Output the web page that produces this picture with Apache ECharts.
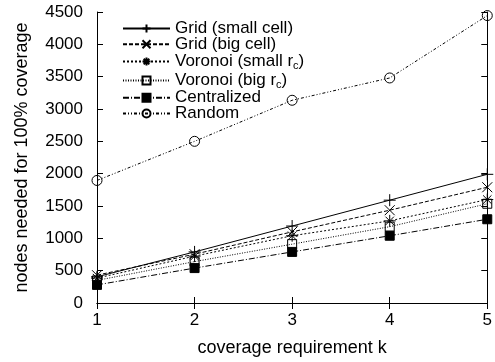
<!DOCTYPE html>
<html><head><meta charset="utf-8">
<script src="https://cdn.jsdelivr.net/npm/echarts@6/dist/echarts.min.js"></script>
<style>html,body{margin:0;padding:0;background:#fff}#c{width:495px;height:362px}</style>
</head><body><div id="c"></div>
<script>
const kValues = [1, 2, 3, 4, 5];
const gridSmall = [405, 790, 1190, 1590, 1990];
const gridBig = [430, 755, 1100, 1435, 1790];
const voronoiSmall = [385, 725, 1040, 1270, 1600];
const voronoiBig = [350, 640, 910, 1180, 1535];
const centralized = [280, 540, 790, 1040, 1295];
const random = [1895, 2500, 3135, 3480, 4445];
const seriesNames = ['Grid (small cell)', 'Grid (big cell)', 'Voronoi (small r_c)', 'Voronoi (big r_c)', 'Centralized', 'Random'];
const yTicks = [0, 500, 1000, 1500, 2000, 2500, 3000, 3500, 4000, 4500];

const FONT = 'Liberation Sans, Arial, sans-serif';
const FS = 17;
const TS = 18;
const pair = arr => kValues.map((k, i) => [k, arr[i]]);
const openCircle = 'path://M10,5A5,5,0,1,1,0,5A5,5,0,1,1,10,5Z';
const openSquare = 'path://M0,0L10,0L10,10L0,10Z';
const styles = [
  {data: gridSmall, symbol: 'path://M0,5L10,5M5,0L5,10', dash: 'solid', size: 12, fill: '#000'},
  {data: gridBig, symbol: 'path://M0,0L10,10M10,0L0,10', dash: [4, 2], size: 10, fill: '#000'},
  {data: voronoiSmall, symbol: 'path://M0,5L10,5M5,0L5,10M1.5,1.5L8.5,8.5M8.5,1.5L1.5,8.5', dash: [2, 2], size: 12, fill: '#000'},
  {data: voronoiBig, symbol: openSquare, dash: [1, 1.5], size: 9, fill: 'rgba(0,0,0,0)'},
  {data: centralized, symbol: 'rect', dash: [6, 2, 1, 2], size: 9, fill: '#000'},
  {data: random, symbol: openCircle, dash: [3, 2, 1, 2, 1, 2], size: 10, fill: 'rgba(0,0,0,0)'}
];
const series = styles.map((s, i) => ({
  name: seriesNames[i], type: 'line', xAxisIndex: 0, yAxisIndex: 0,
  data: pair(s.data), symbol: s.symbol, symbolSize: s.size, showSymbol: true,
  lineStyle: {color: '#000', width: 1, type: s.dash},
  itemStyle: {color: s.fill, borderColor: '#000', borderWidth: 1},
  animation: false, silent: true, z: 3
}));

const chart = echarts.init(document.getElementById('c'), null, {renderer: 'canvas'});
chart.setOption({
  backgroundColor: '#fff',
  animation: false,
  textStyle: {fontFamily: FONT},
  grid: {left: 97, right: 6, top: 12, bottom: 58, show: false},
  legend: {
    orient: 'vertical', left: 117, top: 15, itemWidth: 47, itemHeight: 10, itemGap: -1.2,
    selectedMode: false,
    textStyle: {fontFamily: FONT, fontSize: FS, color: '#000', lineHeight: 17,
      rich: {sub: {fontSize: 11, fontFamily: FONT, color: '#000', lineHeight: 17, padding: [9, 0, 0, 0]}}},
    formatter: n => n.replace('r_c', 'r{sub|c}'),
    data: seriesNames
  },
  xAxis: [{
    type: 'value', min: 1, max: 5, interval: 1, position: 'bottom',
    name: 'coverage requirement k', nameLocation: 'middle', nameGap: 36,
    nameTextStyle: {fontFamily: FONT, fontSize: TS, color: '#000'},
    axisLine: {show: true, lineStyle: {color: '#000', width: 1}},
    axisTick: {show: true, inside: true, length: 6, lineStyle: {color: '#000'}},
    axisLabel: {fontFamily: FONT, fontSize: FS, color: '#000', margin: 9},
    splitLine: {show: false}
  }, {
    type: 'value', min: 1, max: 5, interval: 1, position: 'top',
    axisLine: {show: true, lineStyle: {color: '#000', width: 1}},
    axisTick: {show: true, inside: true, length: 6, lineStyle: {color: '#000'}},
    axisLabel: {show: false}, splitLine: {show: false}
  }],
  yAxis: [{
    type: 'value', min: 0, max: 4500, interval: 500, position: 'left',
    name: 'nodes needed for 100% coverage', nameLocation: 'middle', nameGap: 66, nameRotate: 90,
    nameTextStyle: {fontFamily: FONT, fontSize: TS, color: '#000'},
    axisLine: {show: true, lineStyle: {color: '#000', width: 1}},
    axisTick: {show: true, inside: true, length: 6, lineStyle: {color: '#000'}},
    axisLabel: {fontFamily: FONT, fontSize: FS, color: '#000', margin: 14,
      formatter: v => yTicks.includes(v) ? String(v) : ''},
    splitLine: {show: false}
  }, {
    type: 'value', min: 0, max: 4500, interval: 500, position: 'right',
    axisLine: {show: true, lineStyle: {color: '#000', width: 1}},
    axisTick: {show: true, inside: true, length: 6, lineStyle: {color: '#000'}},
    axisLabel: {show: false}, splitLine: {show: false}
  }],
  series: series
});
</script></body></html>
